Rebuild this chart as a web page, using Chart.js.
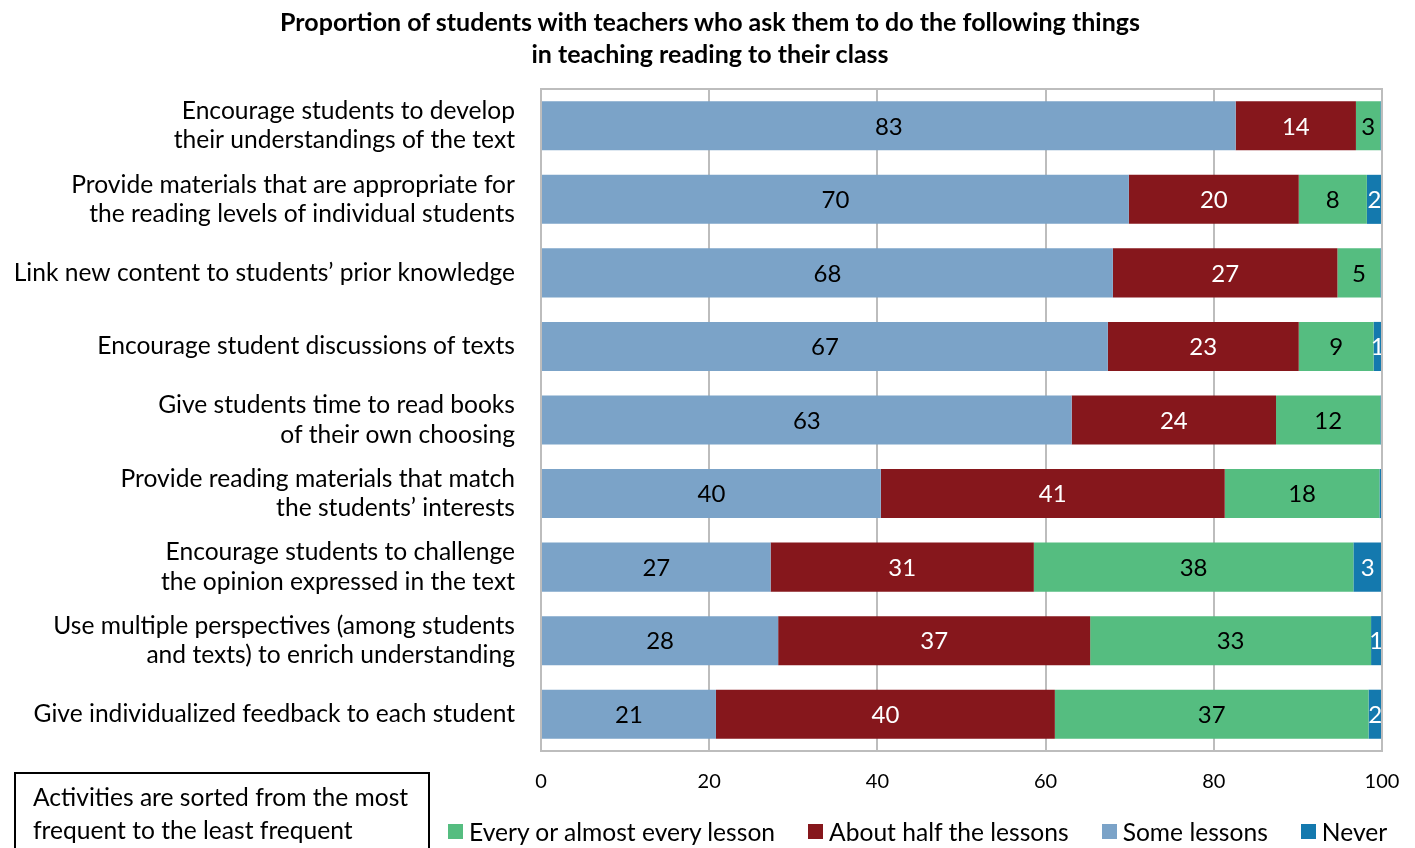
<!DOCTYPE html>
<html>
<head>
<meta charset="utf-8">
<script src="https://cdn.jsdelivr.net/npm/chart.js@4"></script>
<style>
  html, body { margin: 0; padding: 0; background: #fff; }
  #wrap { position: relative; width: 1415px; height: 848px; overflow: hidden; font-family: Lato, "Open Sans", sans-serif; }
  #chart { position: absolute; left: 0; top: 0; }
  #title { position: absolute; left: 0; top: 5px; width: 1420px; text-align: center; font-weight: bold;
           font-size: 25px; line-height: 32px; color: #000; }
  #note { position: absolute; left: 14px; top: 772px; width: 416px; height: 90px; border: 2px solid #000;
          font-size: 24.6px; line-height: 33px; padding: 6px 0 0 17px; box-sizing: border-box; color: #000; }
  #legend { position: absolute; left: 448px; top: 817px; display: flex; font-size: 24.6px; color: #000; white-space: nowrap; }
  #legend .item { display: flex; align-items: center; margin-right: 33px; }
  #legend .box { width: 15px; height: 15px; margin-right: 6px; }
</style>
</head>
<body>
<div id="wrap">
  <canvas id="chart" width="1415" height="848"></canvas>
  <div id="title">Proportion of students with teachers who ask them to do the following things<br>in teaching reading to their class</div>
  <div id="note">Activities are sorted from the most<br>frequent to the least frequent</div>
  <div id="legend"></div>
</div>
<script>
const categories = [
  ['Encourage students to develop', 'their understandings of the text'],
  ['Provide materials that are appropriate for', 'the reading levels of individual students'],
  'Link new content to students’ prior knowledge',
  'Encourage student discussions of texts',
  ['Give students time to read books', 'of their own choosing'],
  ['Provide reading materials that match', 'the students’ interests'],
  ['Encourage students to challenge', 'the opinion expressed in the text'],
  ['Use multiple perspectives (among students', 'and texts) to enrich understanding'],
  'Give individualized feedback to each student'
];

const someLessons = [82.6, 69.9, 68.0, 67.4, 63.1, 40.4, 27.3, 28.2, 20.8];
const aboutHalf   = [14.3, 20.2, 26.7, 22.7, 24.3, 40.9, 31.3, 37.1, 40.3];
const everyLesson = [2.9, 8.1, 5.1, 8.9, 12.4, 18.4, 38.0, 33.4, 37.3];
const never       = [0.2, 1.8, 0.2, 1.0, 0.2, 0.3, 3.4, 1.2, 1.6];

const xTicks = [0, 20, 40, 60, 80, 100];

const FONT = 'Lato, "Open Sans", sans-serif';

const series = [
  { label: 'Some lessons', data: someLessons, color: '#7BA3C8', text: '#000' },
  { label: 'About half the lessons', data: aboutHalf, color: '#86171C', text: '#fff' },
  { label: 'Every or almost every lesson', data: everyLesson, color: '#55BD80', text: '#000' },
  { label: 'Never', data: never, color: '#1479AE', text: '#fff' }
];

// legend order differs from stacking order
const legendOrder = [2, 1, 0, 3];
const legendEl = document.getElementById('legend');
legendOrder.forEach(i => {
  const s = series[i];
  const item = document.createElement('div');
  item.className = 'item';
  item.innerHTML = '<span class="box" style="background:' + s.color + '"></span>' + s.label;
  legendEl.appendChild(item);
});

// value labels in the middle of each segment
const segmentLabels = {
  id: 'segmentLabels',
  afterDatasetsDraw(chart) {
    const ctx = chart.ctx;
    ctx.save();
    ctx.font = '24px ' + FONT;
    ctx.textAlign = 'center';
    ctx.textBaseline = 'middle';
    chart.data.datasets.forEach((ds, di) => {
      chart.getDatasetMeta(di).data.forEach((bar, i) => {
        const v = Math.round(ds.data[i]);
        if (v < 1) return;
        ctx.fillStyle = series[di].text;
        ctx.fillText(v, (bar.x + bar.base) / 2, bar.y + 1);
      });
    });
    ctx.restore();
  }
};

// grey frame around the plot area
const plotFrame = {
  id: 'plotFrame',
  afterDraw(chart) {
    const a = chart.chartArea;
    const ctx = chart.ctx;
    ctx.save();
    ctx.strokeStyle = '#BDBDBD';
    ctx.lineWidth = 2;
    ctx.strokeRect(a.left, a.top, a.right - a.left, a.bottom - a.top);
    ctx.restore();
  }
};

new Chart(document.getElementById('chart'), {
  type: 'bar',
  data: {
    labels: categories,
    datasets: series.map(s => ({
      label: s.label,
      data: s.data,
      backgroundColor: s.color,
      borderWidth: 0,
      barPercentage: 0.667,
      categoryPercentage: 1
    }))
  },
  options: {
    indexAxis: 'y',
    responsive: false,
    animation: false,
    layout: { padding: { left: 0, right: 33, top: 89, bottom: 0 } },
    plugins: {
      legend: { display: false },
      tooltip: { enabled: false }
    },
    scales: {
      x: {
        stacked: true,
        min: 0,
        max: 100,
        afterBuildTicks(scale) { scale.ticks = xTicks.map(v => ({ value: v })); },
        afterFit(scale) {
          scale.height = 97;
          scale.paddingLeft = 0;
          scale.paddingRight = 0;
        },
        grid: { color: '#BDBDBD', lineWidth: 2, drawTicks: false },
        border: { display: false },
        ticks: { color: '#000', padding: 19, font: { family: FONT, size: 20 } }
      },
      y: {
        stacked: true,
        afterFit(scale) { scale.width = 541; },
        grid: { display: false, drawTicks: false },
        border: { display: false },
        ticks: { color: '#000', padding: 26, font: { family: FONT, size: 24.6, lineHeight: 1.2 } }
      }
    }
  },
  plugins: [segmentLabels, plotFrame]
});
</script>
</body>
</html>
